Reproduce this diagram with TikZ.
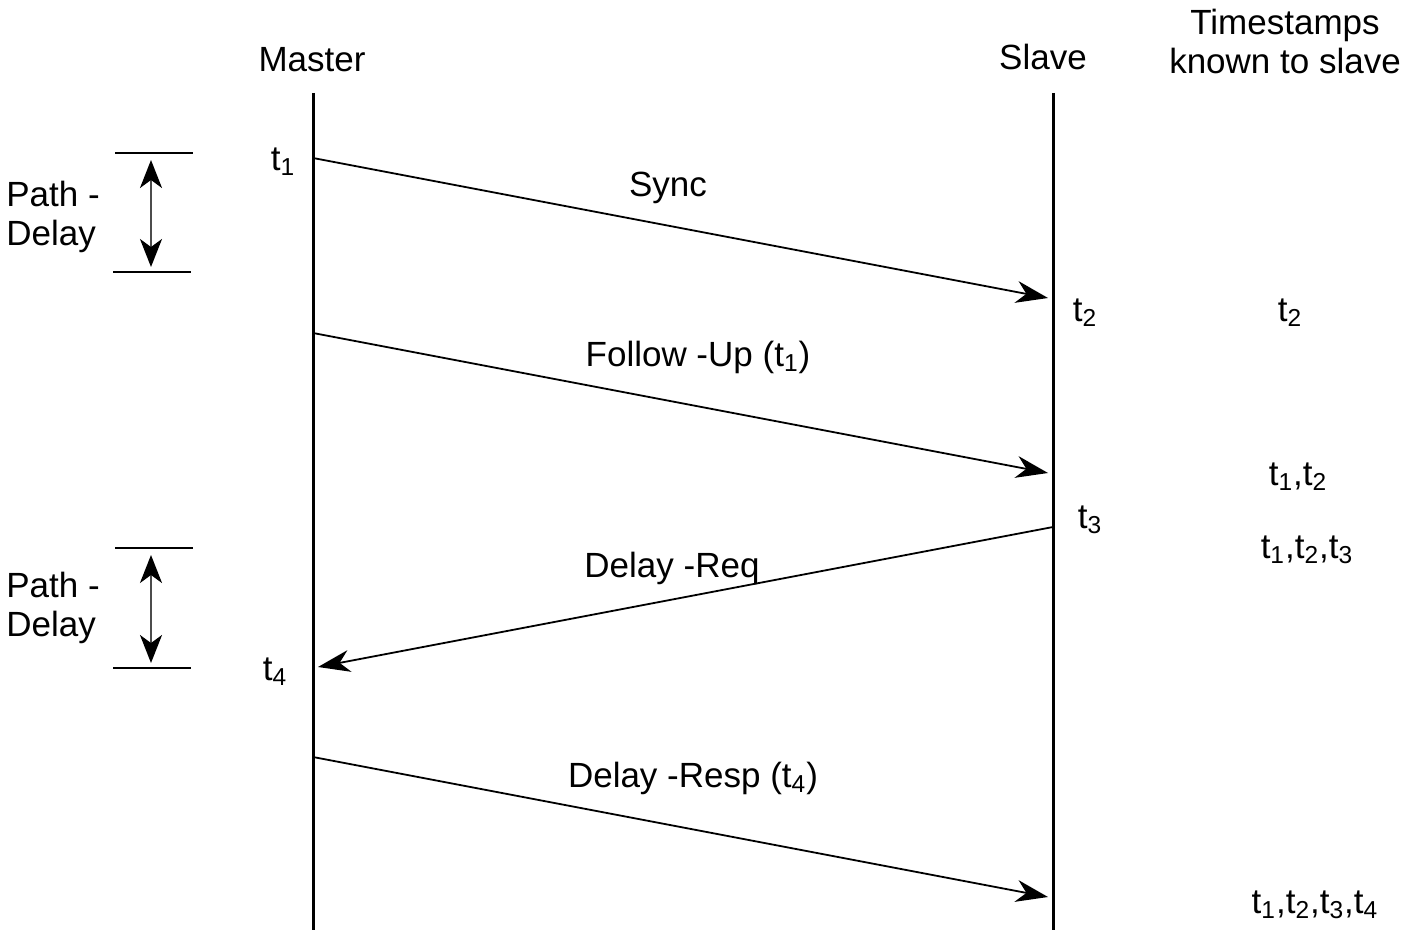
\documentclass[tikz,border=0pt]{standalone}
\usepackage{fontspec}
\setmainfont{Liberation Sans}
\usetikzlibrary{arrows.meta,positioning}
\newcommand{\ts}[1]{t\textsubscript{#1}}
\begin{document}
\begin{tikzpicture}
    [x=0.5pt,y=-0.5pt,
      every node/.style={font=\fontsize{17.5}{19.5}\selectfont},
      lifeline/.style={line width=1.5pt},
      msg/.style={line width=0.9pt,-{Stealth[length=16pt,width=11pt,inset=5pt]}},
      bar/.style={line width=1.2pt},
      span/.style={line width=1pt,gray!60!black,{Stealth[length=14pt,width=11pt,inset=4pt,black]}-{Stealth[length=14pt,width=11pt,inset=4pt,black]}},
      lbl/.style={inner sep=1pt}]
  \useasboundingbox (0,0) rectangle (1417,935);

  % heads
  \node [lbl] (master) at (312,60) {Master};
  \node [lbl] (slave) at (1043,57) {Slave};
  \node [lbl,align=center] (known) at (1285,41) {Timestamps\\known to slave};

  % lifelines
  \coordinate (mtop) at (313,93);
  \coordinate (mbot) at (313,930);
  \coordinate (stop) at (1053,93);
  \coordinate (sbot) at (1053,930);
  \draw [lifeline] (mtop) -- (mbot);
  \draw [lifeline] (stop) -- (sbot);

  % message ends
  \coordinate (syncA) at (313,158);
  \coordinate (syncB) at (1048,298);
  \coordinate (fupA) at (313,333);
  \coordinate (fupB) at (1048,473);
  \coordinate (reqA) at (1053,527);
  \coordinate (reqB) at (318,667);
  \coordinate (respA) at (313,757);
  \coordinate (respB) at (1048,897);

  \draw [msg] (syncA) -- (syncB);
  \draw [msg] (fupA) -- (fupB);
  \draw [msg] (reqA) -- (reqB);
  \draw [msg] (respA) -- (respB);

  \node [lbl] (sync) at (668,188) {Sync};
  \node [lbl] (fup) at (698,357) {Follow -Up (\ts{1})};
  \node [lbl] (req) at (672,568) {Delay -Req};
  \node [lbl] (resp) at (693,778) {Delay -Resp (\ts{4})};

  % timestamps on the lines
  \node [lbl] (t1) at (283,162) {\ts{1}};
  \node [lbl] (t2) at (1085,313) {\ts{2}};
  \node [lbl] (t3) at (1090,520) {\ts{3}};
  \node [lbl] (t4) at (275,672) {\ts{4}};

  % known to slave
  \node [lbl] (k2) at (1290,313) {\ts{2}};
  \node [lbl] (k12) at (1298,477) {\ts{1},\ts{2}};
  \node [lbl] (k123) at (1307,550) {\ts{1},\ts{2},\ts{3}};
  \node [lbl] (k1234) at (1315,905) {\ts{1},\ts{2},\ts{3},\ts{4}};

  % path delay marks
  \foreach \n/\ya/\yb in {a/153/272,b/548/668}{
    \coordinate (\n top1) at (115,\ya);
    \coordinate (\n top2) at (193,\ya);
    \coordinate (\n bot1) at (113,\yb);
    \coordinate (\n bot2) at (191,\yb);
    \coordinate (\n up) at (151,\ya+7);
    \coordinate (\n dn) at (151,\yb-5);
    \draw [bar] (\n top1) -- (\n top2);
    \draw [bar] (\n bot1) -- (\n bot2);
    \draw [span] (\n up) -- (\n dn);
  }
  \node [lbl,align=left] (pda) at (53,217) {Path -\\Delay};
  \node [lbl,align=left] (pdb) at (53,608) {Path -\\Delay};
\end{tikzpicture}
\end{document}
